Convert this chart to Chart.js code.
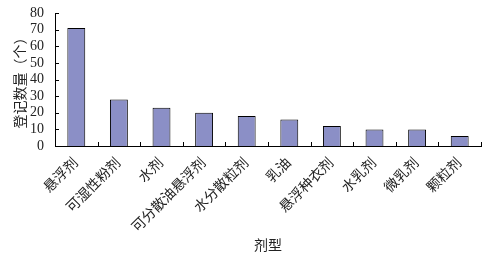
<!DOCTYPE html>
<html>
<head>
<meta charset="utf-8">
<script src="https://cdn.jsdelivr.net/npm/chart.js@4/dist/chart.umd.min.js"></script>
<style>
  html, body { margin: 0; padding: 0; background: #fff; }
  #wrap { width: 492px; height: 264px; }
</style>
</head>
<body>
<div id="wrap"><canvas id="formChart"></canvas></div>
<script>
// Registration counts by formulation type
const formulations = ['悬浮剂', '可湿性粉剂', '水剂', '可分散油悬浮剂', '水分散粒剂', '乳油', '悬浮种衣剂', '水乳剂', '微乳剂', '颗粒剂'];
const counts = [71, 28, 23, 20, 18, 16, 12, 10, 10, 6];
const yTicks = [0, 10, 20, 30, 40, 50, 60, 70, 80];

const fontFamily = "'Liberation Serif', 'Noto Sans CJK SC', serif";

// Short tick marks drawn inside the plot, like the original figure
const innerTicks = {
    id: 'innerTicks',
    afterDraw(chart) {
        const ctx = chart.ctx;
        const x = chart.scales.x;
        const y = chart.scales.y;
        const len = 4;
        ctx.save();
        ctx.strokeStyle = '#000';
        ctx.lineWidth = 1;
        ctx.beginPath();
        yTicks.forEach(v => {
            const py = Math.round(y.getPixelForValue(v)) + 0.5;
            ctx.moveTo(x.left, py);
            ctx.lineTo(x.left + len, py);
        });
        const step = (x.right - x.left) / formulations.length;
        for (let i = 1; i <= formulations.length; i++) {
            const px = Math.round(x.left + i * step) + 0.5;
            ctx.moveTo(px, y.bottom);
            ctx.lineTo(px, y.bottom - len);
        }
        ctx.stroke();
        ctx.restore();
    }
};

new Chart(document.getElementById('formChart'), {
    type: 'bar',
    data: {
        labels: formulations,
        datasets: [{
            data: counts,
            backgroundColor: '#8b8fc6',
            borderColor: '#000',
            borderWidth: 1,
            categoryPercentage: 1,
            barPercentage: 0.42
        }]
    },
    options: {
        responsive: true,
        maintainAspectRatio: false,
        animation: false,
        layout: { padding: { top: 13, right: 11, left: 0, bottom: 0 } },
        plugins: {
            legend: { display: false },
            tooltip: { enabled: false }
        },
        scales: {
            x: {
                afterFit(scale) { scale.height = 118; },
                grid: { display: false },
                border: { display: true, color: '#000', width: 1 },
                ticks: {
                    color: '#222',
                    font: { family: fontFamily, size: 14 },
                    minRotation: 45,
                    maxRotation: 45,
                    autoSkip: false,
                    padding: 1
                },
                title: {
                    display: true,
                    text: '剂型',
                    color: '#222',
                    font: { family: fontFamily, size: 14 },
                    padding: { top: 0, bottom: 9 }
                }
            },
            y: {
                min: 0,
                max: 80,
                afterBuildTicks(scale) {
                    scale.ticks = yTicks.map(v => ({ value: v }));
                },
                afterFit(scale) { scale.width = 55; },
                grid: { display: false },
                border: { display: true, color: '#000', width: 1 },
                ticks: {
                    color: '#222',
                    font: { family: fontFamily, size: 14 },
                    autoSkip: false,
                    padding: 3
                },
                title: {
                    display: true,
                    text: '登记数量（个）',
                    color: '#222',
                    font: { family: fontFamily, size: 14 },
                    padding: { top: 13, bottom: 0 }
                }
            }
        }
    },
    plugins: [innerTicks]
});
</script>
</body>
</html>
